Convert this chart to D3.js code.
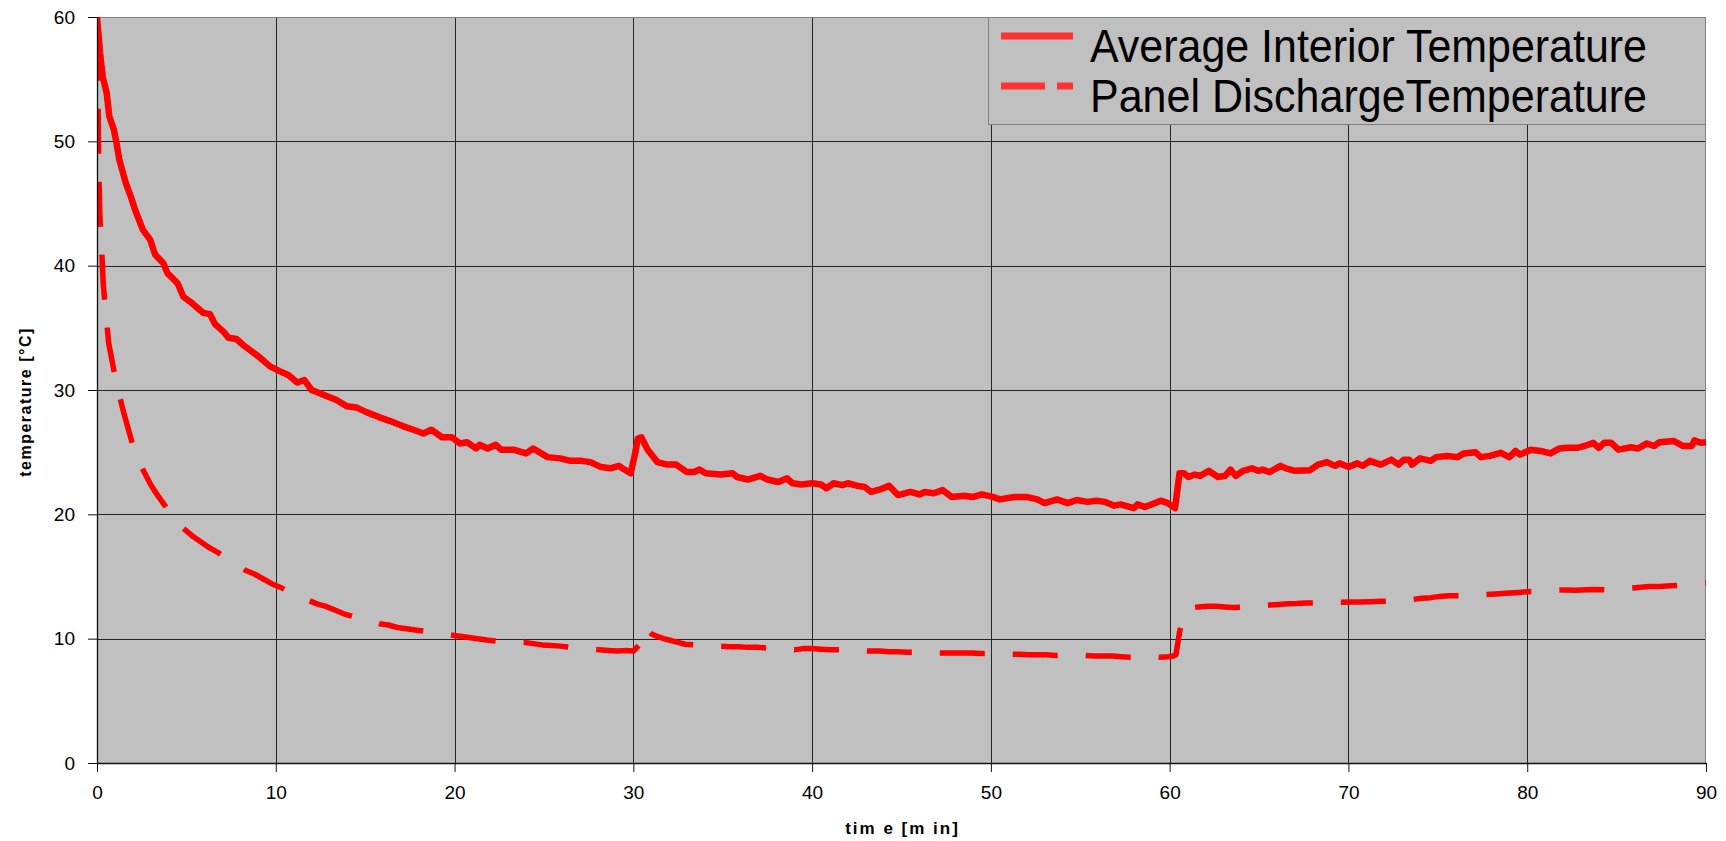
<!DOCTYPE html>
<html>
<head>
<meta charset="utf-8">
<script src="https://cdn.jsdelivr.net/npm/d3@7"></script>
<style>
  html, body { margin: 0; padding: 0; background: #ffffff; }
  svg { display: block; font-family: "Liberation Sans", Arial, sans-serif; }
</style>
</head>
<body>
<svg id="chart" width="1726" height="841"></svg>
<script>
// Cool-down test: interior air and panel discharge temperatures over 90 minutes

const xTicks = [0, 10, 20, 30, 40, 50, 60, 70, 80, 90];
const yTicks = [0, 10, 20, 30, 40, 50, 60];

const seriesNames = ["Average Interior Temperature", "Panel DischargeTemperature"];

// Average interior temperature [°C] against time [min]
const avgTime = [
  0, 0.17, 0.32, 0.54, 0.69, 0.95, 1.1, 1.25, 1.62, 1.88, 2.13, 2.56, 2.97, 3.25, 3.71, 3.94,
  4.5, 4.83, 5.3, 5.95, 6.32, 6.6, 7.07, 7.35, 7.8, 8.19, 8.75, 9.12, 9.68, 10.24, 10.7, 11.2,
  11.6, 12.0, 12.7, 13.4, 13.97, 14.5, 15.1, 15.8, 16.4, 17.1, 17.7, 18.26, 18.7, 19.3, 19.85,
  20.3, 20.7, 21.2, 21.4, 21.85, 22.3, 22.6, 23.3, 24.0, 24.4, 25.2, 25.9, 26.5, 27.1, 27.6,
  28.2, 28.7, 29.2, 29.5, 29.85, 30.1, 30.25, 30.45, 30.8, 31.35, 31.9, 32.4, 33.0, 33.4, 33.7,
  34.05, 34.9, 35.55, 35.8, 36.4, 37.1, 37.5, 38.1, 38.6, 38.9, 39.4, 40.0, 40.5, 40.8, 41.2,
  41.7, 42.0, 42.5, 42.95, 43.3, 43.8, 44.3, 44.8, 45.5, 46.0, 46.3, 46.8, 47.3, 47.8, 48.5,
  49.0, 49.5, 50.1, 50.5, 51.3, 52.0, 52.6, 53.0, 53.7, 54.3, 54.8, 55.4, 55.9, 56.4, 56.9,
  57.25, 58.0, 58.2, 58.6, 58.9, 59.5, 59.9, 60.3, 60.55, 60.8, 61.05, 61.4, 61.7, 62.2, 62.7,
  63.1, 63.4, 63.7, 64.1, 64.6, 64.95, 65.2, 65.6, 66.2, 66.5, 67.0, 67.85, 68.3, 68.8, 69.25,
  69.5, 70.0, 70.5, 70.8, 71.2, 71.8, 72.4, 72.8, 73.1, 73.4, 73.55, 74.0, 74.6, 74.9, 75.5,
  76.1, 76.45, 77.1, 77.4, 77.9, 78.5, 79.0, 79.35, 79.6, 80.2, 80.75, 81.3, 81.8, 82.2, 82.8,
  83.2, 83.7, 84.0, 84.3, 84.7, 85.1, 85.8, 86.2, 86.7, 87.1, 87.4, 88.2, 88.7, 89.2, 89.35,
  89.7, 90.0
];
const avgTemp = [
  60.0, 57.1, 55.2, 53.9, 52.0, 50.9, 49.8, 48.5, 46.6, 45.6, 44.5, 42.9, 42.1, 40.9, 40.2, 39.4,
  38.6, 37.5, 37.0, 36.2, 36.1, 35.3, 34.7, 34.2, 34.1, 33.6, 33.0, 32.6, 31.9, 31.5, 31.2, 30.6,
  30.8, 30.0, 29.6, 29.2, 28.7, 28.6, 28.2, 27.8, 27.5, 27.1, 26.8, 26.5, 26.8, 26.2, 26.2,
  25.7, 25.8, 25.3, 25.6, 25.3, 25.6, 25.2, 25.2, 24.9, 25.3, 24.6, 24.5, 24.3, 24.3, 24.2,
  23.8, 23.7, 23.9, 23.6, 23.3, 24.9, 26.1, 26.2, 25.2, 24.2, 24.0, 24.0, 23.4, 23.4, 23.6,
  23.3, 23.2, 23.3, 23.0, 22.8, 23.1, 22.8, 22.6, 22.9, 22.5, 22.4, 22.5, 22.4, 22.1, 22.5,
  22.35, 22.5, 22.3, 22.2, 21.8, 22.0, 22.3, 21.55, 21.8, 21.6, 21.8, 21.7, 21.95, 21.4, 21.5,
  21.4, 21.6, 21.4, 21.2, 21.4, 21.4, 21.2, 20.9, 21.2, 20.9, 21.15, 21.0, 21.1, 21.0, 20.7,
  20.8, 20.5, 20.8, 20.6, 20.75, 21.1, 20.9, 20.5, 23.3, 23.3, 23.0, 23.2, 23.1, 23.5, 23.0,
  23.1, 23.6, 23.1, 23.5, 23.7, 23.5, 23.6, 23.4, 23.9, 23.7, 23.5, 23.55, 24.0, 24.2, 23.9,
  24.1, 23.8, 24.1, 23.9, 24.3, 24.0, 24.4, 24.0, 24.4, 24.4, 24.0, 24.5, 24.3, 24.6, 24.7,
  24.6, 24.9, 25.0, 24.6, 24.7, 24.95, 24.6, 25.1, 24.8, 25.2, 25.1, 24.9, 25.3, 25.35, 25.35,
  25.5, 25.75, 25.35, 25.75, 25.75, 25.2, 25.4, 25.3, 25.7, 25.5, 25.8, 25.9, 25.5, 25.5, 25.95,
  25.75, 25.8
];

// Panel discharge temperature [°C] against time [min]
const panelTime = [
  0, 0.05, 0.08, 0.12, 0.16, 0.26, 0.35, 0.5, 0.65, 0.85, 1.05, 1.4, 1.7, 2.0, 2.3, 2.6, 3.0,
  3.4, 3.8, 4.3, 4.8, 5.3, 5.8, 6.3, 6.8, 7.3, 7.8, 8.3, 8.8, 9.3, 9.8, 10.3, 10.8, 11.3, 11.8,
  12.3, 12.8, 13.3, 13.8, 14.3, 14.8, 15.3, 15.8, 16.3, 16.8, 17.3, 17.8, 18.3, 18.8, 19.3,
  19.8, 20.3, 20.8, 21.3, 21.8, 22.4, 22.9, 23.4, 23.9, 24.4, 24.9, 25.4, 25.9, 26.5, 27.0,
  27.5, 28.1, 28.6, 29.1, 29.6, 30.0, 30.2, 30.4, 30.55, 30.7, 31.0, 31.3, 31.7, 32.1, 32.5,
  32.9, 33.4, 33.9, 34.4, 34.9, 35.4, 35.9, 36.4, 37.0, 37.5, 38.0, 38.5, 39.0, 39.5, 40.0,
  40.5, 41.1, 41.6, 42.2, 42.7, 43.2, 43.8, 44.3, 44.8, 45.3, 45.9, 46.4, 46.9, 47.4, 47.9,
  48.4, 48.9, 49.4, 49.9, 50.5, 51.1, 51.6, 52.1, 52.6, 53.1, 53.7, 54.2, 54.7, 55.3, 55.8,
  56.3, 56.8, 57.3, 57.8, 58.3, 58.8, 59.4, 59.9, 60.2, 60.35, 60.55, 60.7, 60.9, 61.1, 61.6,
  62.1, 62.6, 63.1, 63.6, 64.1, 64.6, 65.1, 65.6, 66.1, 66.6, 67.1, 67.6, 68.1, 68.6, 69.1,
  69.6, 70.1, 70.6, 71.2, 71.8, 72.4, 73.1, 73.6, 74.1, 74.6, 75.1, 75.6, 76.3, 77.0, 77.6,
  78.2, 78.8, 79.5, 80.2, 80.9, 81.5, 82.1, 82.7, 83.3, 83.8, 84.4, 85.0, 85.6, 86.2, 86.8,
  87.4, 88.0, 88.6, 89.2, 89.6, 90.0
];
const panelTemp = [
  60.0, 55.0, 50.0, 46.5, 44.0, 41.3, 38.5, 36.1, 33.8, 32.3, 30.8, 28.7, 27.1, 25.6, 24.5, 23.5, 22.4,
  21.5, 20.7, 19.7, 18.9, 18.3, 17.8, 17.3, 16.9, 16.4, 16.0, 15.5, 15.2, 14.8, 14.4, 14.1, 13.7, 13.4, 13.1,
  12.8, 12.6, 12.3, 12.0, 11.8, 11.6, 11.4, 11.2, 11.1, 10.9, 10.8, 10.7, 10.6, 10.5, 10.4,
  10.3, 10.2, 10.1, 10.0, 9.9, 9.8, 9.75, 9.7, 9.7, 9.6, 9.5, 9.45, 9.4, 9.3, 9.25,
  9.2, 9.1, 9.05, 9.0, 9.05, 9.0, 9.3, 9.6, 10.9, 10.8, 10.4, 10.2, 10.0, 9.85, 9.7,
  9.55, 9.5, 9.45, 9.4, 9.4, 9.35, 9.35, 9.3, 9.3, 9.25, 9.2, 9.15, 9.1, 9.2, 9.2,
  9.15, 9.1, 9.1, 9.05, 9.05, 9.0, 9.0, 8.95, 8.95, 8.9, 8.9, 8.85, 8.85, 8.85, 8.85,
  8.85, 8.85, 8.8, 8.8, 8.75, 8.75, 8.75, 8.7, 8.7, 8.7, 8.65, 8.65, 8.65, 8.65, 8.6,
  8.6, 8.6, 8.55, 8.5, 8.5, 8.55, 8.5, 8.55, 8.6, 8.7, 10.5, 11.5, 12.2, 12.45, 12.55,
  12.6, 12.6, 12.55, 12.5, 12.55, 12.6, 12.65, 12.7, 12.75, 12.8, 12.82, 12.86, 12.88, 12.9, 12.91,
  12.92, 12.94, 12.95, 12.97, 13.0, 13.02, 13.05, 13.15, 13.25, 13.3, 13.4, 13.45, 13.45, 13.45, 13.55,
  13.6, 13.65, 13.72, 13.8, 13.85, 13.9, 13.92, 13.9, 13.93, 13.95, 13.93, 14.0, 14.05, 14.12, 14.2,
  14.2, 14.25, 14.3, 14.38, 14.42, 14.47
];

const W = 1726, H = 841;
const plot = { left: 97, top: 17, right: 1706, bottom: 763 };

const svg = d3.select("#chart");

const x = d3.scaleLinear().domain([0, 90]).range([plot.left, plot.right]);
const y = d3.scaleLinear().domain([0, 60]).range([plot.bottom, plot.top]);

// plot area
svg.append("rect")
  .attr("x", plot.left).attr("y", plot.top)
  .attr("width", plot.right - plot.left).attr("height", plot.bottom - plot.top)
  .attr("fill", "#c0c0c0");

// grid
const grid = svg.append("g").attr("shape-rendering", "crispEdges");
grid.selectAll("line.v")
  .data(xTicks.filter(d => d > 0 && d < 90))
  .join("line")
  .attr("class", "v")
  .attr("x1", d => Math.round(x(d)) + 0.5).attr("x2", d => Math.round(x(d)) + 0.5)
  .attr("y1", plot.top).attr("y2", plot.bottom)
  .attr("stroke", "#262626").attr("stroke-width", 1);
grid.selectAll("line.h")
  .data(yTicks.filter(d => d > 0 && d < 60))
  .join("line")
  .attr("class", "h")
  .attr("x1", plot.left).attr("x2", plot.right)
  .attr("y1", d => Math.round(y(d)) + 0.5).attr("y2", d => Math.round(y(d)) + 0.5)
  .attr("stroke", "#262626").attr("stroke-width", 1);

// frame on top and right
svg.append("path")
  .attr("d", `M${plot.left},${plot.top + 0.5}H${plot.right - 0.5}V${plot.bottom}`)
  .attr("fill", "none").attr("stroke", "#808080").attr("stroke-width", 1)
  .attr("shape-rendering", "crispEdges");

// series
svg.append("clipPath").attr("id", "plotClip")
  .append("rect")
  .attr("x", plot.left).attr("y", plot.top)
  .attr("width", plot.right - plot.left).attr("height", plot.bottom - plot.top);

const line = d3.line().x(d => x(d[0])).y(d => y(d[1]));
const avgData = avgTime.map((t, i) => [t, avgTemp[i]]);
const panelData = panelTime.map((t, i) => [t, panelTemp[i]]);

const lines = svg.append("g").attr("clip-path", "url(#plotClip)");
const dashOn = 45, dashOff = 28;
const panelPath = lines.append("path")
  .datum(panelData)
  .attr("d", line)
  .attr("fill", "none")
  .attr("stroke", "#ff0000")
  .attr("stroke-width", 5.5)
  .attr("stroke-dasharray", `${dashOn},${dashOff}`)
  .attr("stroke-linejoin", "round");

// phase the dash pattern so that a dash begins near the 20-minute mark
(function () {
  const node = panelPath.node();
  const total = node.getTotalLength();
  const targetX = x(19.8);
  let lo = 0, hi = total;
  for (let k = 0; k < 40; k++) {
    const mid = (lo + hi) / 2;
    if (node.getPointAtLength(mid).x < targetX) lo = mid; else hi = mid;
  }
  const period = dashOn + dashOff;
  const offset = (period - (lo % period)) % period;
  panelPath.attr("stroke-dashoffset", offset);
})();

lines.append("path")
  .datum(avgData)
  .attr("d", line)
  .attr("fill", "none")
  .attr("stroke", "#ff0000")
  .attr("stroke-width", 6.5)
  .attr("stroke-linejoin", "round");

// axes
const axisFont = 19;
const yAxis = svg.append("g")
  .attr("transform", `translate(${plot.left},0)`)
  .call(d3.axisLeft(y).tickValues(yTicks).tickSize(9).tickSizeOuter(0).tickPadding(13).tickFormat(d3.format("d")));
const xAxis = svg.append("g")
  .attr("transform", `translate(0,${plot.bottom})`)
  .call(d3.axisBottom(x).tickValues(xTicks).tickSize(9).tickSizeOuter(0).tickPadding(14).tickFormat(d3.format("d")));

[yAxis, xAxis].forEach(g => {
  g.select(".domain").attr("stroke", "#111").attr("stroke-width", 1.3);
  g.selectAll(".tick line").attr("stroke", "#111").attr("stroke-width", 1);
  g.selectAll(".tick text")
    .attr("fill", "#000")
    .style("font-family", '"Liberation Sans", Arial, sans-serif')
    .style("font-size", axisFont + "px");
});

// axis titles
svg.append("text")
  .attr("x", (plot.left + plot.right) / 2 + 1)
  .attr("y", 834)
  .attr("text-anchor", "middle")
  .style("font-size", "17px")
  .style("font-weight", "bold")
  .style("letter-spacing", "2px")
  .text("tim e [m in]");

svg.append("text")
  .attr("transform", `translate(31,${402}) rotate(-90)`)
  .attr("text-anchor", "middle")
  .style("font-size", "16px")
  .style("font-weight", "bold")
  .style("letter-spacing", "1.5px")
  .text("temperature [°C]");

// legend
const legend = svg.append("g");
legend.append("rect")
  .attr("x", 988.5).attr("y", plot.top + 0.5)
  .attr("width", plot.right - 988.5 - 0.5).attr("height", 107)
  .attr("fill", "#c0c0c0").attr("stroke", "#808080").attr("stroke-width", 1);

const legendRows = [
  { name: seriesNames[0], dash: null, ly: 36, ty: 62 },
  { name: seriesNames[1], dash: "44,12", ly: 86, ty: 112 }
];
legendRows.forEach(r => {
  legend.append("line")
    .attr("x1", 1001).attr("x2", 1073)
    .attr("y1", r.ly).attr("y2", r.ly)
    .attr("stroke", "#ff3333").attr("stroke-width", 7)
    .attr("stroke-dasharray", r.dash);
  legend.append("text")
    .attr("x", 1090).attr("y", r.ty)
    .attr("textLength", 557)
    .attr("lengthAdjust", "spacingAndGlyphs")
    .style("font-size", "46px")
    .attr("fill", "#000")
    .text(r.name);
});
</script>
</body>
</html>
